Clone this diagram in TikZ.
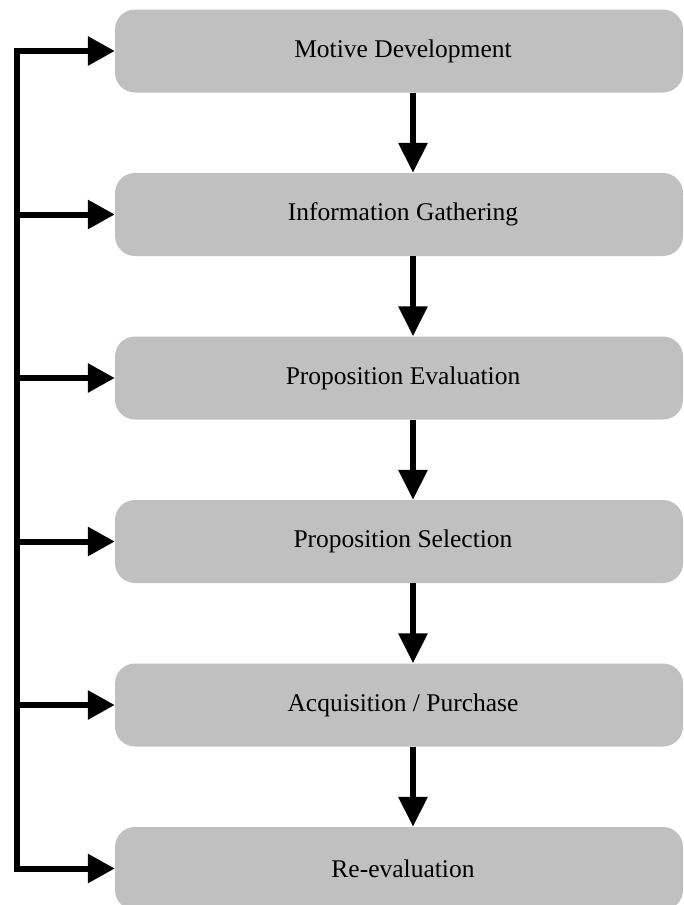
\documentclass[tikz,border=0pt]{standalone}
\usepackage{fontspec}
\setmainfont{Liberation Serif}
\usetikzlibrary{arrows.meta}
\definecolor{boxgray}{RGB}{192,192,192}
\newcommand{\stagetext}[1]{\hspace*{8pt}\raisebox{-3pt}{#1}}
\tikzset{
  stagebox/.style={draw=none, fill=boxgray, rounded corners=20pt,
    minimum width=568pt, minimum height=83pt, inner sep=0pt,
    font=\fontsize{25.5}{30}\selectfont, text=black},
  flowarrow/.style={line width=6pt, -{Triangle[length=30pt,width=28pt]}},
  sidearrow/.style={line width=6pt, -{Triangle[length=27pt,width=28pt]}},
}
\begin{document}
\begin{tikzpicture}[x=1pt,y=-1pt]
\useasboundingbox (0,0) rectangle (684,905);
\clip (0,0) rectangle (684,905);
\node[stagebox] (b1) at (399,51)    {\stagetext{Motive Development}};
\node[stagebox] (b2) at (399,214.5) {\stagetext{Information Gathering}};
\node[stagebox] (b3) at (399,378)   {\stagetext{Proposition Evaluation}};
\node[stagebox] (b4) at (399,541.5) {\stagetext{Proposition Selection}};
\node[stagebox] (b5) at (399,705)   {\stagetext{Acquisition / Purchase}};
\node[stagebox] (b6) at (399,868.5) {\stagetext{Re-evaluation}};
\foreach \i/\j in {1/2,2/3,3/4,4/5,5/6}{
  \draw[flowarrow] ([xshift=14pt]b\i.south) -- ([xshift=14pt]b\j.north);
}
\coordinate (L1) at (17,51);
\coordinate (L6) at (17,868.5);
\draw[line width=6pt, {Triangle[length=27pt,width=28pt]}-{Triangle[length=27pt,width=28pt]}]
  (b1.west) -- (L1) -- (L6) -- (b6.west);
\foreach \i in {2,3,4,5}{
  \coordinate (L\i) at (L1 |- b\i.west);
  \draw[sidearrow] (L\i) -- (b\i.west);
}
\end{tikzpicture}
\end{document}
